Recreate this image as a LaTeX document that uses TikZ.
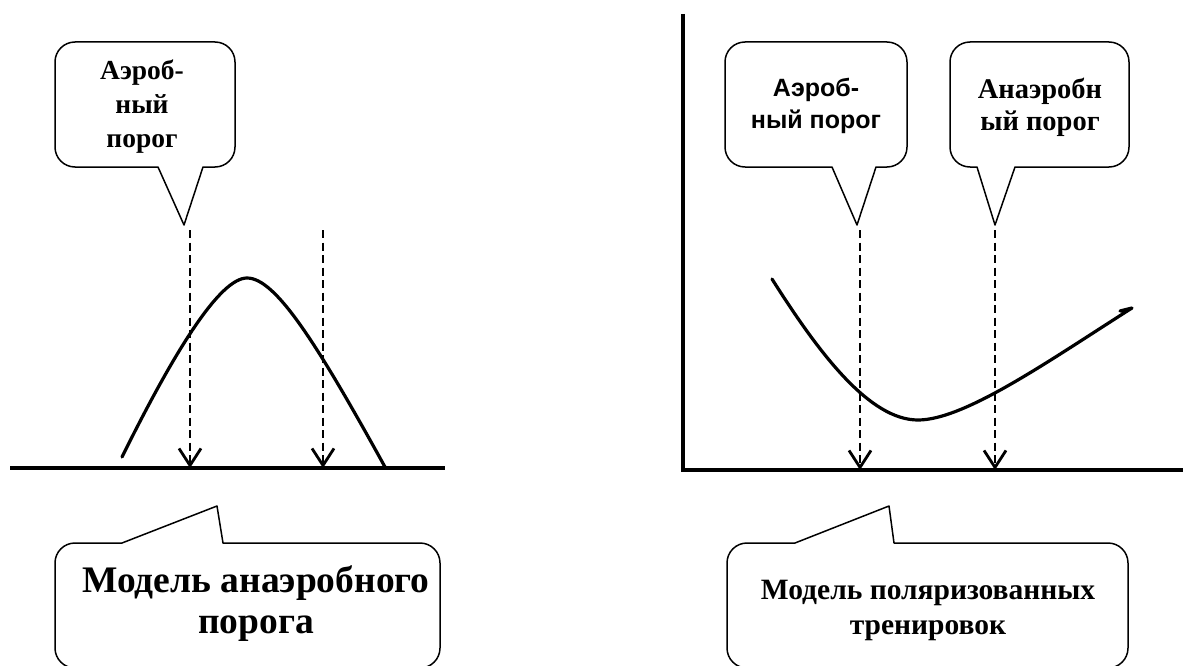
\documentclass[tikz,border=0pt]{standalone}
\usepackage{fontspec}
\setmainfont{Liberation Serif}
\newfontfamily\arialf{Liberation Sans}
\usetikzlibrary{arrows.meta}
\begin{document}
\begin{tikzpicture}[x=1pt,y=-1pt,
  callout/.style={draw, line width=1.5pt, fill=white, line join=round},
  axisline/.style={line width=3.2pt},
  curveline/.style={line width=3.2pt, line cap=round, line join=round},
  thresh/.style={line width=2.8pt, dash pattern=on 8pt off 4.5pt,
    -{Straight Barb[length=17pt,width=22pt,line width=2.8pt]}},
  lbl/.style={align=center, inner sep=0pt, font=\bfseries}]
\useasboundingbox (0,0) rectangle (1185,666);

% ---------- left panel ----------
\coordinate (L0) at (10,468);
\coordinate (L1) at (445,468);
\draw[axisline] (L0) -- (L1);

\draw[curveline] (122,457) .. controls (175,350) and (220,278) .. (247,278)
  .. controls (275,278) and (315,340) .. (385,467);

\coordinate (a1t) at (190,230);
\coordinate (a1b) at (190,468);
\coordinate (a2t) at (323,230);
\coordinate (a2b) at (323,468);
\draw[thresh] (a1t) -- (a1b);
\draw[thresh] (a2t) -- (a2b);

% top-left callout
\draw[callout, rounded corners=20] (55,100) -- (55,42) -- (235,42) -- (235,167)
  [sharp corners] -- (203,167) -- (184,225) -- (158,167)
  [rounded corners=20] -- (55,167) -- cycle;
\node[lbl, font=\bfseries\fontsize{27.5}{34}\selectfont] (c1) at (142,107) {Аэроб-\\ный\\порог};

% bottom-left callout
\draw[callout, rounded corners=20] (55,600) -- (55,543)
  [sharp corners] -- (122,543) -- (217,506) -- (223,543)
  [rounded corners=20] -- (440,543) -- (440,668) -- (55,668) -- cycle;
\node[lbl, font=\bfseries\fontsize{37.5}{41}\selectfont] (c2) at (256,604) {Модель анаэробного\\порога};

% ---------- right panel ----------
\coordinate (R0) at (683,14);
\coordinate (R1) at (683,470);
\coordinate (R2) at (1183,470);
\draw[axisline, line join=miter] (R0) -- (R1) -- (R2);

\draw[curveline] (772,279) .. controls (820,355) and (870,420) .. (918,420)
  .. controls (965,420) and (1050,360) .. (1132,308) -- (1120,311);

\coordinate (a3t) at (860,230);
\coordinate (a3b) at (860,470);
\coordinate (a4t) at (995,230);
\coordinate (a4b) at (995,470);
\draw[thresh] (a3t) -- (a3b);
\draw[thresh] (a4t) -- (a4b);

% top-right callout 1
\draw[callout, rounded corners=20] (725,100) -- (725,42) -- (907,42) -- (907,167)
  [sharp corners] -- (876,167) -- (857,225) -- (832,167)
  [rounded corners=20] -- (725,167) -- cycle;
\node[lbl, font=\arialf\bfseries\fontsize{25}{32}\selectfont] (c3) at (816,106) {Аэроб-\\ный порог};

% top-right callout 2
\draw[callout, rounded corners=20] (950,100) -- (950,42) -- (1129,42) -- (1129,167)
  [sharp corners] -- (1015,167) -- (995,225) -- (977,167)
  [rounded corners=20] -- (950,167) -- cycle;
\node[lbl, font=\bfseries\fontsize{28.5}{32}\selectfont] (c4) at (1040,107) {Анаэробн\\ый порог};

% bottom-right callout
\draw[callout, rounded corners=20] (727,600) -- (727,543)
  [sharp corners] -- (795,543) -- (889,506) -- (894,543)
  [rounded corners=20] -- (1128,543) -- (1128,668) -- (727,668) -- cycle;
\node[lbl, font=\bfseries\fontsize{29.5}{35}\selectfont] (c5) at (928,610) {Модель поляризованных\\тренировок};
\end{tikzpicture}
\end{document}
